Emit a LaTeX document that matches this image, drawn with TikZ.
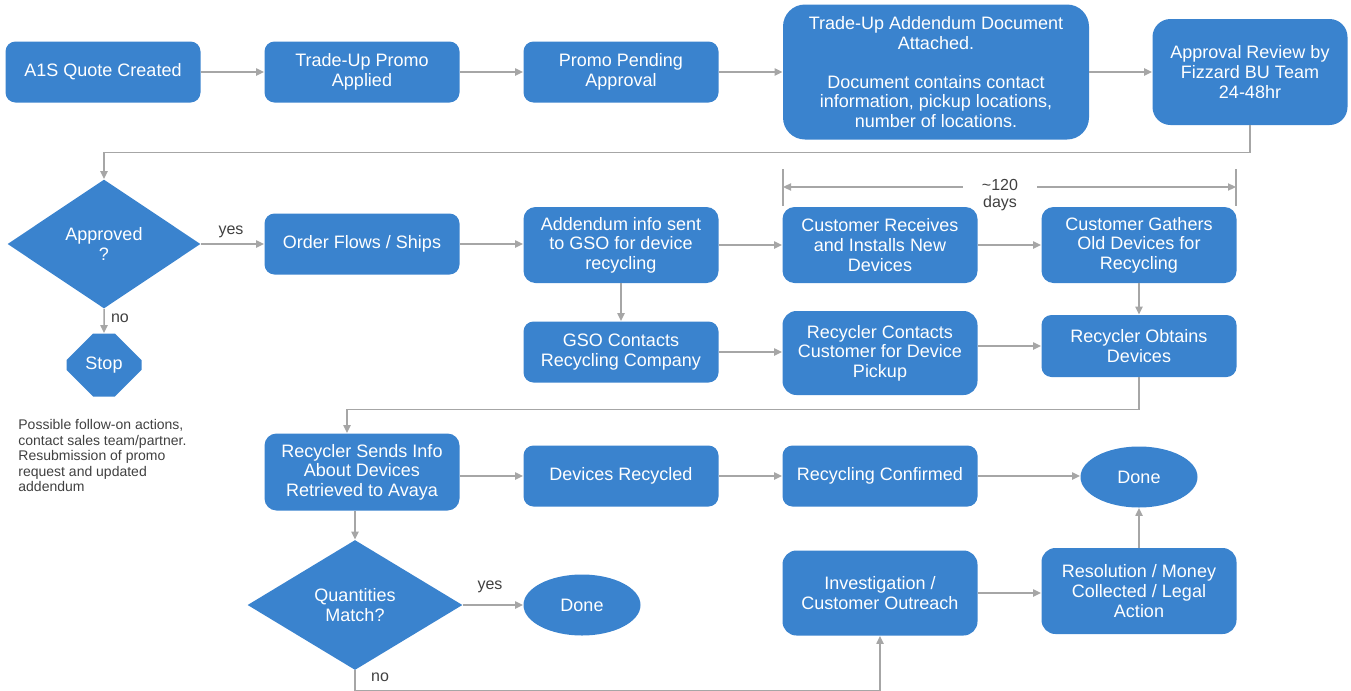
\documentclass[tikz,border=0pt]{standalone}
\usepackage{fontspec}
\setmainfont{Liberation Sans}
\usetikzlibrary{shapes.geometric,shapes.misc,arrows.meta}

\definecolor{boxblue}{RGB}{58,131,206}
\definecolor{linegray}{RGB}{166,166,166}
\definecolor{labelgray}{RGB}{64,64,64}

\tikzset{
  box/.style={rectangle, rounded corners=5pt, fill=boxblue, text=white, align=center,
    inner sep=0pt, minimum width=97.5pt, minimum height=30.5pt,
    font=\fontsize{9}{9.8}\selectfont},
  decision/.style={diamond, fill=boxblue, text=white, align=center, inner sep=0pt,
    font=\fontsize{9}{9.8}\selectfont},
  terminal/.style={ellipse, fill=boxblue, text=white, inner sep=0pt,
    minimum width=58.5pt, minimum height=30.5pt, font=\fontsize{9}{9.8}\selectfont},
  stopsign/.style={chamfered rectangle, chamfered rectangle xsep=6pt,
    chamfered rectangle ysep=9.5pt, fill=boxblue, text=white, inner sep=0pt,
    minimum width=37.5pt, minimum height=31.5pt, font=\fontsize{9}{9.8}\selectfont},
  conn/.style={draw=linegray, line width=0.75pt, -{Triangle[length=4pt,width=3.6pt]}},
  dimline/.style={draw=linegray, line width=0.75pt},
  lbl/.style={text=labelgray, inner sep=0pt, font=\fontsize{8}{8.5}\selectfont},
}

\begin{document}
\begin{tikzpicture}[yscale=-1,x=0.5pt,y=0.5pt]
        \useasboundingbox (0,0) rectangle (1351,691);

        % first row
        \node[box] (quote) at (103,72) {A1S Quote Created};
        \node[box] (promo) at (362,72) {Trade-Up Promo\\Applied};
        \node[box] (pending) at (621,72) {Promo Pending\\Approval};
        \node[box, minimum width=153pt, minimum height=67.5pt, rounded corners=11pt] (addendum) at (936,72)
          {Trade-Up Addendum Document\\Attached.\\[9.8pt]Document contains contact\\information, pickup locations,\\number of locations.};
        \node[box, minimum height=53pt, rounded corners=9pt] (review) at (1250,72)
          {Approval Review by\\Fizzard BU Team\\24-48hr};

        % second row
        \node[decision, minimum width=96.5pt, minimum height=64.5pt] (approved) at (104,244) {Approved\\?};
        \node[box] (orders) at (362,244) {Order Flows / Ships};
        \node[box, minimum height=38pt, rounded corners=6pt] (addinfo) at (621,245) {Addendum info sent\\to GSO for device\\recycling};
        \node[box, minimum height=38pt, rounded corners=6pt] (receives) at (880,245) {Customer Receives\\and Installs New\\Devices};
        \node[box, minimum height=38pt, rounded corners=6pt] (gathers) at (1139,245) {Customer Gathers\\Old Devices for\\Recycling};

        % third row
        \node[stopsign] (stop) at (104,365) {Stop};
        \node[box] (gso) at (621,352) {GSO Contacts\\Recycling Company};
        \node[box, minimum height=42pt, rounded corners=7pt] (rcontacts) at (880,353) {Recycler Contacts\\Customer for Device\\Pickup};
        \node[box, minimum height=31pt] (robtains) at (1139,346) {Recycler Obtains\\Devices};

        \node[lbl, anchor=north west, align=left, font=\fontsize{7}{7.75}\selectfont] (followup) at (18,419)
          {Possible follow-on actions,\\contact sales team/partner.\\Resubmission of promo\\request and updated\\addendum};

        % fourth row
        \node[box, minimum height=38.5pt, rounded corners=6pt] (rsends) at (362,472) {Recycler Sends Info\\About Devices\\Retrieved to Avaya};
        \node[box] (drecycled) at (621,476) {Devices Recycled};
        \node[box] (rconfirmed) at (880,476) {Recycling Confirmed};
        \node[terminal] (doneA) at (1139,477) {Done};

        % fifth row
        \node[decision, minimum width=107.5pt, minimum height=65pt] (qmatch) at (355,605) {Quantities\\Match?};
        \node[terminal] (doneB) at (582,605) {Done};
        \node[box, minimum height=42.5pt, rounded corners=7pt] (invest) at (880,593) {Investigation /\\Customer Outreach};
        \node[box, minimum height=43pt, rounded corners=7pt] (resol) at (1139,591) {Resolution / Money\\Collected / Legal\\Action};

        % ~120 days span
        \coordinate (dimL) at (783,187);
        \coordinate (dimR) at (1236,187);
        \node[lbl, align=center, inner xsep=9.5pt] (days) at (1000,195) {\textasciitilde120\\days};
        \draw[dimline] (dimL) ++(0,-18) -- ++(0,37);
        \draw[dimline] (dimR) ++(0,-18) -- ++(0,37);
        \draw[conn] (days.west |- dimL) -- (dimL);
        \draw[conn] (days.east |- dimR) -- (dimR);

        % connectors
        \draw[conn] (quote) -- (promo);
        \draw[conn] (promo) -- (pending);
        \draw[conn] (pending) -- (addendum);
        \draw[conn] (addendum) -- (review);
        \draw[conn] (review.south) -- ++(0,27) -| (approved.north);
        \draw[conn] (approved) -- (orders);
        \node[lbl] (yesA) at (231,232) {yes};
        \draw[conn] (approved) -- (stop);
        \node[lbl] (noA) at (120,318) {no};
        \draw[conn] (orders.east) -- (orders.east -| addinfo.west);
        \draw[conn] (addinfo.east) -- (addinfo.east -| receives.west);
        \draw[conn] (receives.east) -- (receives.east -| gathers.west);
        \draw[conn] (addinfo) -- (gso);
        \draw[conn] (gso.east) -- (gso.east -| rcontacts.west);
        \draw[conn] (rcontacts.east |- robtains) -- (robtains);
        \draw[conn] (gathers) -- (robtains);
        \draw[conn] (robtains.south) -- ++(0,32) -| ([xshift=-7.5pt]rsends.north);
        \draw[conn] (rsends.east |- drecycled) -- (drecycled);
        \draw[conn] (drecycled) -- (rconfirmed);
        \draw[conn] (rconfirmed.east) -- (rconfirmed.east -| doneA.west);
        \draw[conn] (rsends.south -| qmatch.north) -- (qmatch.north);
        \draw[conn] (qmatch) -- (doneB);
        \node[lbl] (yesB) at (490,587) {yes};
        \draw[conn] (qmatch.south) -- ++(0,20) -| (invest.south);
        \node[lbl] (noB) at (380,677) {no};
        \draw[conn] (invest.east) -- (invest.east -| resol.west);
        \draw[conn] (resol) -- (doneA);
    \end{tikzpicture}
\end{document}
